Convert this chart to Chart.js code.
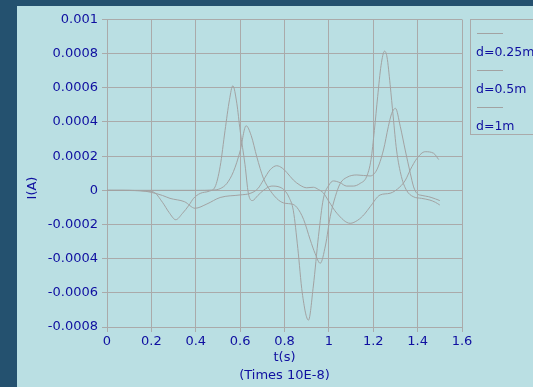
<!DOCTYPE html>
<html>
<head>
<meta charset="utf-8">
<script src="https://cdn.jsdelivr.net/npm/chart.js@4/dist/chart.umd.min.js"></script>
<style>
html, body { margin: 0; padding: 0; background: #24516f; }
</style>
</head>
<body>
<canvas id="chart" width="533" height="387"></canvas>
<script>
// series labels
const seriesNames = ['d=0.25m', 'd=0.5m', 'd=1m'];

// d=0.25m
const tA = [0, 0.10, 0.18, 0.21, 0.25, 0.28, 0.31, 0.34, 0.37, 0.39, 0.42, 0.46, 0.487, 0.51, 0.532, 0.552, 0.567, 0.585, 0.60, 0.622, 0.637, 0.655, 0.68, 0.705, 0.743, 0.78, 0.80, 0.82, 0.84, 0.86, 0.88, 0.908, 0.93, 0.953, 0.975, 1.0, 1.02, 1.05, 1.08, 1.11, 1.14, 1.17, 1.19, 1.205, 1.22, 1.235, 1.251, 1.262, 1.276, 1.29, 1.305, 1.327, 1.35, 1.38, 1.418, 1.455, 1.48, 1.50];
const iA = [0, 0, -0.05e-4, -0.1e-4, -0.7e-4, -1.3e-4, -1.72e-4, -1.35e-4, -0.86e-4, -0.47e-4, -0.18e-4, -0.05e-4, 0.2e-4, 1.4e-4, 3.5e-4, 5.3e-4, 6.12e-4, 5.1e-4, 3.5e-4, 1.5e-4, -0.17e-4, -0.6e-4, -0.3e-4, 0, 0.25e-4, 0.18e-4, 0, -0.4e-4, -1.2e-4, -3.4e-4, -6.0e-4, -7.6e-4, -5.6e-4, -2.7e-4, -0.5e-4, 0.3e-4, 0.55e-4, 0.45e-4, 0.25e-4, 0.25e-4, 0.4e-4, 0.8e-4, 1.8e-4, 3.5e-4, 5.5e-4, 7.3e-4, 8.15e-4, 7.8e-4, 6.2e-4, 4.3e-4, 2.36e-4, 0.8e-4, 0, -0.37e-4, -0.47e-4, -0.57e-4, -0.7e-4, -0.86e-4];

// d=0.5m
const tB = [0, 0.2, 0.4, 0.48, 0.51, 0.54, 0.57, 0.60, 0.627, 0.65, 0.675, 0.705, 0.735, 0.773, 0.803, 0.833, 0.856, 0.886, 0.916, 0.938, 0.961, 0.985, 1.006, 1.029, 1.051, 1.081, 1.126, 1.186, 1.216, 1.246, 1.268, 1.283, 1.30, 1.322, 1.344, 1.367, 1.382, 1.397, 1.42, 1.449, 1.48, 1.50];
const iB = [0, 0, 0, 0.02e-4, 0.1e-4, 0.4e-4, 1.1e-4, 2.3e-4, 3.78e-4, 3.2e-4, 1.97e-4, 0.7e-4, 0, -0.57e-4, -0.76e-4, -0.8e-4, -1.0e-4, -1.7e-4, -2.9e-4, -3.7e-4, -4.27e-4, -3.2e-4, -1.54e-4, -0.37e-4, 0.4e-4, 0.76e-4, 0.9e-4, 0.84e-4, 1.2e-4, 2.36e-4, 3.73e-4, 4.5e-4, 4.8e-4, 3.73e-4, 2.36e-4, 1.0e-4, 0.2e-4, -0.18e-4, -0.3e-4, -0.37e-4, -0.5e-4, -0.6e-4];

// d=1m
const tC = [0, 0.15, 0.2, 0.25, 0.284, 0.35, 0.397, 0.45, 0.51, 0.6, 0.645, 0.68, 0.705, 0.735, 0.765, 0.79, 0.81, 0.84, 0.87, 0.90, 0.93, 0.953, 0.975, 1.0, 1.036, 1.096, 1.13, 1.16, 1.186, 1.231, 1.276, 1.32, 1.345, 1.367, 1.397, 1.434, 1.472, 1.495];
const iC = [0, -0.02e-4, -0.12e-4, -0.3e-4, -0.47e-4, -0.67e-4, -1.05e-4, -0.8e-4, -0.42e-4, -0.27e-4, -0.18e-4, 0.1e-4, 0.6e-4, 1.2e-4, 1.44e-4, 1.3e-4, 1.05e-4, 0.6e-4, 0.3e-4, 0.15e-4, 0.18e-4, 0.05e-4, -0.15e-4, -0.65e-4, -1.34e-4, -1.93e-4, -1.75e-4, -1.4e-4, -0.96e-4, -0.27e-4, -0.17e-4, 0.2e-4, 0.6e-4, 1.2e-4, 1.87e-4, 2.26e-4, 2.17e-4, 1.8e-4];

// axes
const xTicks = [0, 0.2, 0.4, 0.6, 0.8, 1.0, 1.2, 1.4, 1.6];
const xTickLabels = ['0', '0.2', '0.4', '0.6', '0.8', '1', '1.2', '1.4', '1.6'];
const yTicks = [-0.0008, -0.0006, -0.0004, -0.0002, 0, 0.0002, 0.0004, 0.0006, 0.0008, 0.001];
const yTickLabels = ['-0.0008', '-0.0006', '-0.0004', '-0.0002', '0', '0.0002', '0.0004', '0.0006', '0.0008', '0.001'];
const xTitle = ['t(s)', '(Times 10E-8)'];
const yTitle = 'I(A)';

const blue = '#0f0fa0';
const gridGray = '#aaaaaa';
const lineGray = '#a2a2a2';
const fontFamily = '"DejaVu Sans", sans-serif';

function toPoints(ts, vs) {
  return ts.map((t, i) => ({ x: t, y: vs[i] }));
}

const background = {
  id: 'background',
  beforeDraw(chart) {
    const ctx = chart.ctx;
    ctx.save();
    ctx.fillStyle = '#24516f';
    ctx.fillRect(0, 0, chart.width, chart.height);
    ctx.fillStyle = '#badfe3';
    ctx.fillRect(17, 6, chart.width - 17, chart.height - 6);
    ctx.restore();
  }
};

// y title sits a bit below the middle of the axis in the original
const yTitlePlugin = {
  id: 'yTitle',
  afterDraw(chart) {
    const ctx = chart.ctx;
    ctx.save();
    ctx.translate(33, 188);
    ctx.rotate(-Math.PI / 2);
    ctx.font = '13px ' + fontFamily;
    ctx.fillStyle = blue;
    ctx.textAlign = 'center';
    ctx.textBaseline = 'middle';
    ctx.fillText(yTitle, 0, 0);
    ctx.restore();
  }
};

// legend: short line above each label, inside a box on the right
const sideLegend = {
  id: 'sideLegend',
  afterDraw(chart) {
    const ctx = chart.ctx;
    ctx.save();
    ctx.strokeStyle = gridGray;
    ctx.lineWidth = 1;
    ctx.strokeRect(470.5, 19.5, 90, 115);
    ctx.font = '12.5px ' + fontFamily;
    ctx.textBaseline = 'alphabetic';
    chart.data.datasets.forEach((ds, i) => {
      const y = 33.5 + i * 37;
      ctx.strokeStyle = ds.borderColor;
      ctx.beginPath();
      ctx.moveTo(477, y);
      ctx.lineTo(503, y);
      ctx.stroke();
      ctx.fillStyle = blue;
      ctx.fillText(ds.label, 476, y + 22);
    });
    ctx.restore();
  }
};

const series = [[tA, iA], [tB, iB], [tC, iC]];

new Chart(document.getElementById('chart'), {
  type: 'line',
  data: {
    datasets: series.map((s, i) => ({
      label: seriesNames[i],
      data: toPoints(s[0], s[1]),
      borderColor: lineGray,
      borderWidth: 1,
      pointRadius: 0,
      fill: false,
      cubicInterpolationMode: 'monotone'
    }))
  },
  options: {
    responsive: false,
    animation: false,
    layout: { padding: { left: 20, right: 71, top: 19.5, bottom: 0 } },
    plugins: { legend: { display: false }, tooltip: { enabled: false } },
    scales: {
      x: {
        type: 'linear',
        min: 0,
        max: 1.6,
        afterBuildTicks: s => { s.ticks = xTicks.map(v => ({ value: v })); },
        afterFit: s => { s.height = 60; },
        ticks: {
          callback: (v, i) => xTickLabels[i],
          color: blue,
          font: { family: fontFamily, size: 13 },
          padding: 2,
          maxRotation: 0,
          autoSkip: false
        },
        grid: { color: gridGray, tickLength: 5 },
        border: { color: gridGray },
        title: {
          display: true,
          text: xTitle,
          color: blue,
          font: { family: fontFamily, size: 13, lineHeight: 1.4 },
          padding: { top: 0, bottom: 2 }
        }
      },
      y: {
        type: 'linear',
        min: -0.0008,
        max: 0.001,
        afterBuildTicks: s => { s.ticks = yTicks.map(v => ({ value: v })); },
        afterFit: s => { s.width = 87; },
        ticks: {
          callback: (v, i) => yTickLabels[i],
          color: blue,
          font: { family: fontFamily, size: 13 },
          padding: 4,
          autoSkip: false
        },
        grid: { color: gridGray, tickLength: 5 },
        border: { color: gridGray }
      }
    }
  },
  plugins: [background, yTitlePlugin, sideLegend]
});
</script>
</body>
</html>
